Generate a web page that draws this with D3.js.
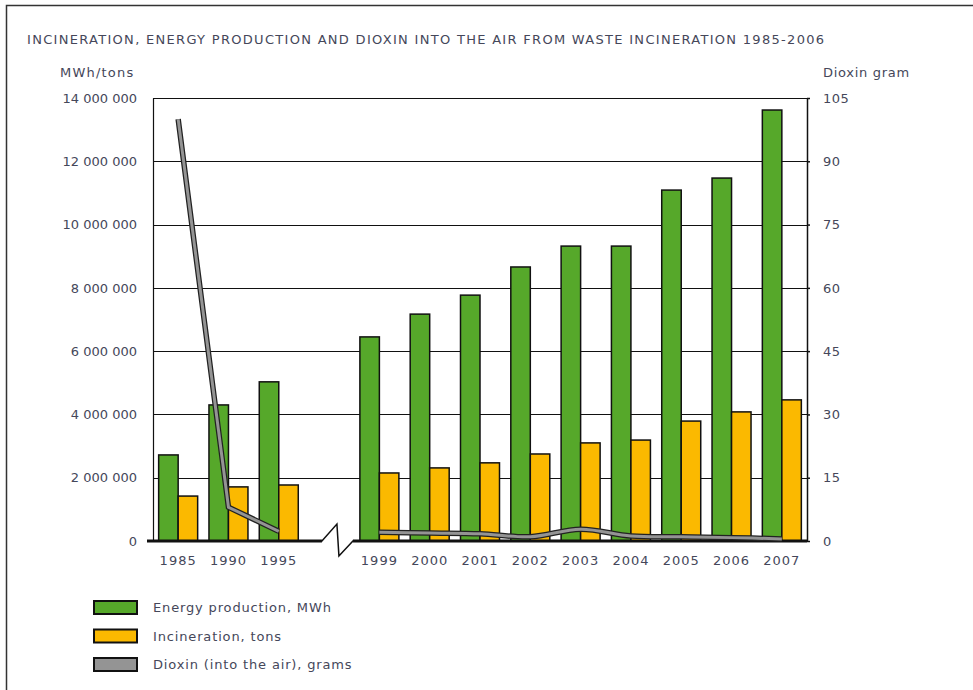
<!DOCTYPE html>
<html>
<head>
<meta charset="utf-8">
<script src="https://cdn.jsdelivr.net/npm/d3@7"></script>
<style>
  body { margin: 0; background: #fff; }
  text { font-family: "DejaVu Sans", sans-serif; fill: #45475a; }
</style>
</head>
<body>
<script>
var width = 973,
    height = 690;

// data
var years = ["1985", "1990", "1995", "1999", "2000", "2001", "2002", "2003", "2004", "2005", "2006", "2007"];
var energy = [2720000, 4300000, 5030000, 6450000, 7170000, 7770000, 8660000, 9320000, 9320000, 11090000, 11470000, 13620000];
var incineration = [1420000, 1710000, 1770000, 2150000, 2310000, 2470000, 2750000, 3100000, 3190000, 3790000, 4080000, 4460000];
var dioxin = [100, 8, 2.3, 2.1, 1.9, 1.7, 1.0, 2.8, 1.2, 1.0, 0.8, 0.5];
var leftTicks = [0, 2000000, 4000000, 6000000, 8000000, 10000000, 12000000, 14000000];
var rightTicks = [0, 15, 30, 45, 60, 75, 90, 105];
var legendItems = ["Energy production, MWh", "Incineration, tons", "Dioxin (into the air), grams"];

var green = "#56a82a", yellow = "#fbb900", grey = "#949494";

var plotL = 153, plotR = 807, plotT = 98, plotB = 541;

// one empty slot for the axis break between 1995 and 1999
var slots = years.slice(0, 3).concat(["gap"]).concat(years.slice(3));

var x = d3.scaleBand().domain(slots).range([plotL, plotR]);
var y = d3.scaleLinear().domain([0, 14000000]).range([plotB, plotT]);
var y2 = d3.scaleLinear().domain([0, 105]).range([plotB, plotT]);

var svg = d3.select("body").append("svg")
    .attr("width", width)
    .attr("height", height);

// frame
svg.append("path")
    .attr("d", "M6.5," + height + "V5.5H" + width)
    .attr("fill", "none")
    .attr("stroke", "#333")
    .attr("stroke-width", 1.5);

svg.append("text")
    .attr("x", 27).attr("y", 44)
    .style("font-size", "13px")
    .style("letter-spacing", "1.3px")
    .text("INCINERATION, ENERGY PRODUCTION AND DIOXIN INTO THE AIR FROM WASTE INCINERATION 1985-2006");

svg.append("text").attr("x", 60).attr("y", 77).style("font-size", "13px")
    .style("letter-spacing", "1.2px").text("MWh/tons");
svg.append("text").attr("x", 823).attr("y", 77).style("font-size", "13px")
    .style("letter-spacing", "0.7px").text("Dioxin gram");

// gridlines
svg.append("g")
  .selectAll("line").data(leftTicks.slice(1)).enter().append("line")
    .attr("x1", plotL).attr("x2", plotR)
    .attr("y1", function(d) { return Math.round(y(d)) + 0.5; })
    .attr("y2", function(d) { return Math.round(y(d)) + 0.5; })
    .attr("stroke", "#111").attr("stroke-width", 1.2);

var fmt = function(d) { return d3.format(",")(d).replace(/,/g, " "); };

var leftAxis = svg.append("g")
    .attr("transform", "translate(" + plotL + ",0)")
    .call(d3.axisLeft(y).tickValues(leftTicks).tickFormat(fmt).tickSize(0).tickPadding(16));
leftAxis.select(".domain").attr("stroke", "#111").attr("stroke-width", 1.2);
leftAxis.selectAll("text").style("font-size", "13px").attr("fill", "#45475a");

var rightAxis = svg.append("g")
    .attr("transform", "translate(" + plotR + ",0)")
    .call(d3.axisRight(y2).tickValues(rightTicks).tickSize(3).tickPadding(13).tickSizeOuter(0));
rightAxis.select(".domain").attr("stroke", "#111").attr("stroke-width", 1.5);
rightAxis.selectAll("line").attr("stroke", "#111").attr("stroke-width", 1.5);
rightAxis.selectAll("text").style("font-size", "13px").style("letter-spacing", "0.5px").attr("fill", "#45475a");

// bars
var bw = 19.5;
var groups = svg.append("g").selectAll("g").data(years).enter().append("g")
    .attr("transform", function(d) { return "translate(" + (x(d) + x.bandwidth() / 2) + ",0)"; });

groups.append("rect")
    .attr("x", -bw)
    .attr("y", function(d, i) { return y(energy[i]); })
    .attr("width", bw)
    .attr("height", function(d, i) { return plotB - y(energy[i]); })
    .attr("fill", green).attr("stroke", "#111").attr("stroke-width", 1.5);

groups.append("rect")
    .attr("x", 0)
    .attr("y", function(d, i) { return y(incineration[i]); })
    .attr("width", bw)
    .attr("height", function(d, i) { return plotB - y(incineration[i]); })
    .attr("fill", yellow).attr("stroke", "#111").attr("stroke-width", 1.5);

// x labels
groups.append("text")
    .attr("y", 565)
    .attr("text-anchor", "middle")
    .style("font-size", "13px")
    .style("letter-spacing", "1px")
    .text(function(d) { return d; });

// baseline with break
var gapX = x("gap");
svg.append("path")
    .attr("d", "M147," + plotB + "H" + (gapX + 18) + "L" + (gapX + 33) + "," + (plotB - 17) +
        "L" + (gapX + 35) + "," + (plotB + 15) + "L" + (gapX + 49) + "," + plotB + "H" + plotR)
    .attr("fill", "none").attr("stroke", "#111").attr("stroke-width", 1.5);
svg.append("path")
    .attr("d", "M147," + plotB + "H" + (gapX + 18) + "M" + (gapX + 49) + "," + plotB + "H" + plotR)
    .attr("stroke", "#111").attr("stroke-width", 3);

// dioxin line, split at the break
var pts = years.map(function(d, i) { return [x(d) + x.bandwidth() / 2, y2(dioxin[i])]; });
var seg1 = d3.line().curve(d3.curveLinear);
var seg2 = d3.line().curve(d3.curveCatmullRom);
[[seg1, pts.slice(0, 3)], [seg2, pts.slice(3)]].forEach(function(s) {
  svg.append("path").attr("d", s[0](s[1]))
      .attr("fill", "none").attr("stroke", "#222").attr("stroke-width", 5.5);
  svg.append("path").attr("d", s[0](s[1]))
      .attr("fill", "none").attr("stroke", grey).attr("stroke-width", 3);
});

// legend
var legend = svg.append("g").selectAll("g").data(legendItems).enter().append("g")
    .attr("transform", function(d, i) { return "translate(94," + (601 + i * 28.5) + ")"; });
legend.append("rect")
    .attr("width", 43).attr("height", 13)
    .attr("fill", function(d, i) { return [green, yellow, grey][i]; })
    .attr("stroke", "#111").attr("stroke-width", 2);
legend.append("text")
    .attr("x", 59).attr("y", 11)
    .style("font-size", "13px")
    .style("letter-spacing", "0.85px")
    .text(function(d) { return d; });
</script>
</body>
</html>
